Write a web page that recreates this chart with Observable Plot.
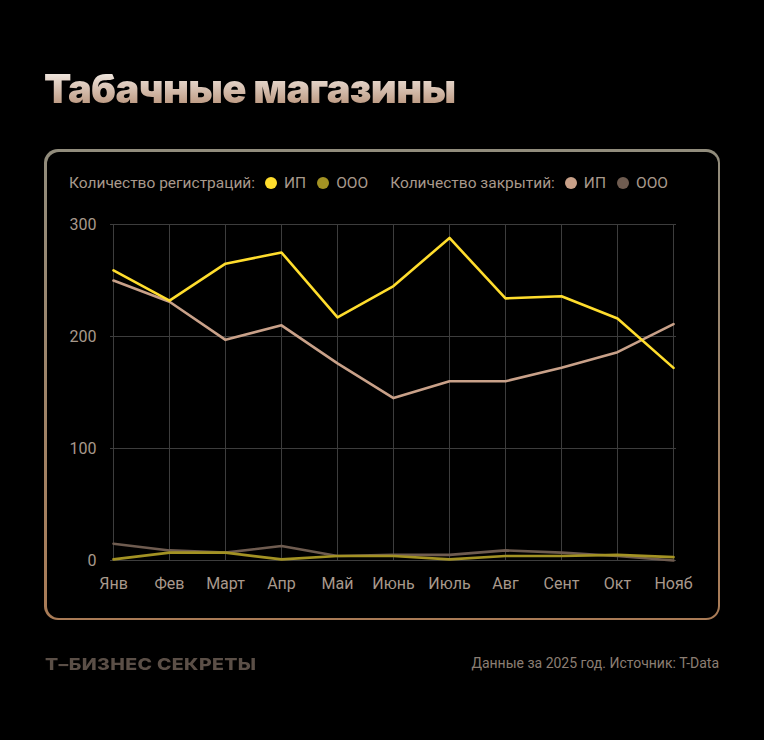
<!DOCTYPE html>
<html>
<head>
<meta charset="utf-8">
<script src="https://cdn.jsdelivr.net/npm/d3@7"></script>
<script src="https://cdn.jsdelivr.net/npm/@observablehq/plot@0.6"></script>
<style>
  html, body { margin:0; padding:0; background:#000; }
  body { width:764px; height:740px; position:relative; overflow:hidden; font-family: Roboto, "Liberation Sans", sans-serif; }
  #title { position:absolute; left:44px; top:64px; font-family: Inter, "Noto Sans", sans-serif; font-weight:900; font-size:40px; letter-spacing:-0.65px;
    background: linear-gradient(to bottom, #f3ebe4 15%, #b58e74 90%); -webkit-background-clip:text; background-clip:text; color:transparent; line-height:50px; }
  #frame { position:absolute; left:44px; top:149px; width:676px; height:471px; border-radius:14px; background:linear-gradient(to bottom, #918c7c, #a97b56); }
  #frame .inner { position:absolute; left:2.5px; top:2.5px; right:2.5px; bottom:2.5px; border-radius:12px; background:#000; }
  #legend { position:absolute; left:69px; top:174px; font-size:15.5px; color:#a8998c; display:flex; align-items:center; white-space:nowrap; }
  #legend .dot { display:inline-block; width:12px; height:12px; border-radius:50%; margin:0 7px 0 0; }
  #legend .item { display:flex; align-items:center; margin-right:11px; }
  #chart { position:absolute; left:0; top:200px; }
  #brand { position:absolute; left:45px; top:654px; font-family: Inter, sans-serif; font-weight:800; font-size:16px; color:#5b4f47; letter-spacing:0.3px; transform:scaleX(1.22); transform-origin:left center; }
  #source { position:absolute; right:45px; top:655px; font-size:14px; color:#8b7e73; }
</style>
</head>
<body>
<div id="title">Табачные магазины</div>
<div id="frame"><div class="inner"></div></div>
<div id="legend"></div>
<div id="chart"></div>
<div id="brand">Т–БИЗНЕС СЕКРЕТЫ</div>
<div id="source">Данные за 2025 год. Источник: T-Data</div>
<script>
const months = ["Янв","Фев","Март","Апр","Май","Июнь","Июль","Авг","Сент","Окт","Нояб"];
const regIP  = [259, 232, 265, 275, 217, 245, 288, 234, 236, 216, 172];
const regOOO = [1, 7, 7, 1, 4, 4, 1, 4, 4, 5, 3];
const clsIP  = [250, 231, 197, 210, 176, 145, 160, 160, 172, 186, 211];
const clsOOO = [15, 9, 7, 13, 4, 5, 5, 9, 7, 4, 0];
const yTicks = [0, 100, 200, 300];

const seriesNames = ["Регистрации ИП","Регистрации ООО","Закрытия ИП","Закрытия ООО"];
const seriesColors = ["#ffdd2d","#a39223","#c9a189","#6f5c50"];
const seriesValues = [regIP, regOOO, clsIP, clsOOO];

// legend
const legend = document.getElementById("legend");
const groups = [
  {label:"Количество регистраций:", items:[["ИП",0],["ООО",1]]},
  {label:"Количество закрытий:", items:[["ИП",2],["ООО",3]]}
];
groups.forEach((g, gi) => {
  const l = document.createElement("span");
  l.textContent = g.label;
  l.style.marginRight = "10px";
  legend.appendChild(l);
  g.items.forEach(([t, i], k) => {
    const it = document.createElement("span");
    it.className = "item";
    if (gi === 0 && k === 1) it.style.marginRight = "22px";
    it.innerHTML = `<span class="dot" style="background:${seriesColors[i]}"></span><span>${t}</span>`;
    legend.appendChild(it);
  });
});

const data = [];
seriesNames.forEach((s, si) => {
  months.forEach((m, mi) => data.push({series: s, month: m, value: seriesValues[si][mi]}));
});
// draw order: closures first, registrations on top
const order = ["Закрытия ООО","Закрытия ИП","Регистрации ООО","Регистрации ИП"];

const plot = Plot.plot({
  width: 764,
  height: 400,
  marginLeft: 110,
  marginRight: 88,
  marginTop: 24,
  marginBottom: 40,
  style: { background: "transparent", color: "#a8998c", fontSize: "16px", fontFamily: "Roboto, sans-serif" },
  x: { type: "point", domain: months, padding: 0, label: null },
  y: { domain: [0, 300], ticks: yTicks, label: null },
  color: { domain: seriesNames, range: seriesColors },
  marks: [
    Plot.ruleX(months, { stroke: "#3d3d3d", strokeWidth: 1 }),
    Plot.ruleY(yTicks, { stroke: "#3d3d3d", strokeWidth: 1 }),
    Plot.axisX({ tickSize: 0, tickPadding: 17, fontSize: 16 }),
    Plot.axisY({ ticks: yTicks, tickSize: 0, tickPadding: 14, fontSize: 16 }),
    ...order.map(s => Plot.line(data.filter(d => d.series === s), {
      x: "month", y: "value", stroke: "series", strokeWidth: 2.6, curve: "linear"
    }))
  ]
});
document.getElementById("chart").appendChild(plot);
</script>
</body>
</html>
